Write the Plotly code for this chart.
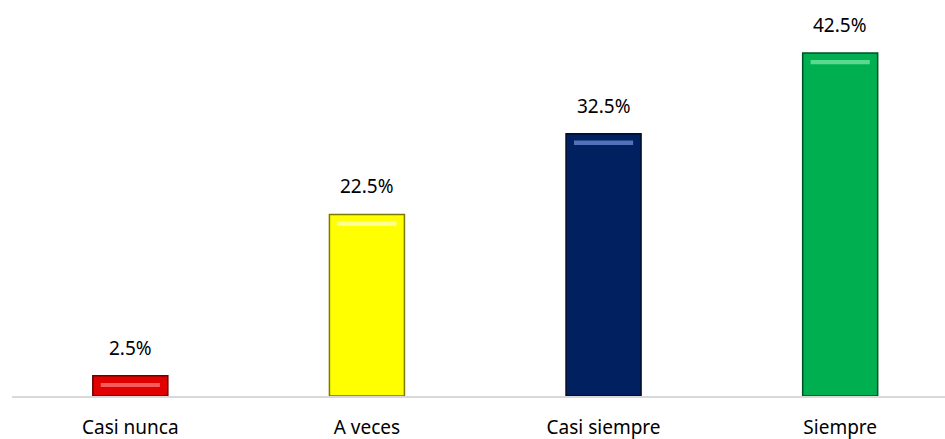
import plotly.graph_objects as go

categories = ["Casi nunca", "A veces", "Casi siempre", "Siempre"]
values = [2.5, 22.5, 32.5, 42.5]
labels = ["2.5%", "22.5%", "32.5%", "42.5%"]
colors = ["#E00000", "#FFFF00", "#002060", "#00B050"]
edge_colors = ["#6A0000", "#7A7A00", "#000C28", "#005025"]
hi_colors = ["rgba(255,130,130,0.7)", "rgba(255,255,200,0.75)",
             "rgba(110,140,215,0.75)", "rgba(130,235,170,0.7)"]

FONT = "Noto Sans"
fig = go.Figure()

fig.add_trace(go.Bar(
    x=categories, y=values, width=0.317,
    marker=dict(color=colors, line=dict(color=edge_colors, width=1.5)),
    hoverinfo="skip", showlegend=False,
))

# bevel highlight strip just under the top of each bar
strip_base = [max(v - 1.4, v * 0.3) for v in values]
strip_h = [min(0.55, v * 0.2) for v in values]
fig.add_trace(go.Bar(
    x=categories, y=strip_h, base=strip_base, width=0.25,
    marker=dict(color=hi_colors, line=dict(width=0)),
    hoverinfo="skip", showlegend=False,
))

for c, v, t in zip(categories, values, labels):
    fig.add_annotation(x=c, y=v, text=t, showarrow=False, yanchor="bottom",
                       yshift=13, font=dict(family=FONT, size=19, color="#000000"))

fig.update_layout(
    width=945, height=439,
    margin=dict(l=12, r=0, t=0, b=43),
    paper_bgcolor="white", plot_bgcolor="white",
    barmode="overlay",
    xaxis=dict(
        range=[-0.5, 3.443], showgrid=False, zeroline=False,
        showline=True, linecolor="#D9D9D9", linewidth=1.5,
        ticks="", tickfont=dict(family=FONT, size=19, color="#000000"),
        ticklabelstandoff=13,
    ),
    yaxis=dict(range=[0, 49.07], visible=False),
)

fig.write_html("out.html")
